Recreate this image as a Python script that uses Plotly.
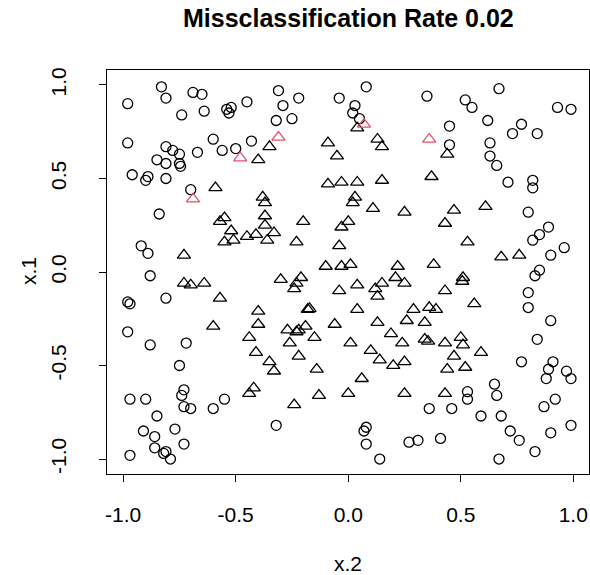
import plotly.graph_objects as go

# Class 1 (circles, correctly classified)
circ_x = [-0.98, -0.83, -0.81, -0.69, -0.65, -0.74, -0.64, -0.54, -0.52, -0.53, -0.45,
          -0.98, -0.81, -0.78, -0.75, -0.67, -0.60, -0.56, -0.50, -0.43, -0.85, -0.81, -0.75, -0.745,
          -0.31, -0.22, -0.29, -0.32, -0.25, -0.04, 0.08, 0.03, 0.02, 0.05, 0.35,
          0.67, 0.52, 0.55, 0.62, 0.77, 0.73, 0.84, 0.93, 0.99, 0.45, 0.45, 0.63, 0.63, 0.66,
          -0.96, -0.90, -0.89, -0.81, -0.70, -0.84, -0.92, -0.89,
          0.71, 0.82, 0.82, 0.80, 0.89, 0.85, 0.82, 0.96, 0.90, 0.85, 0.83, 0.80, 0.80, 0.90,
          0.84, 0.77, 0.91, 0.89, 0.97, 0.99, 0.88,
          -0.88, -0.98, -0.97, -0.81, -0.98, -0.88, -0.72, -0.75, -0.73, -0.74, -0.97, -0.90,
          -0.73, -0.70, -0.85, -0.60, -0.55, -0.77, -0.91, -0.86, -0.73, -0.86, -0.81, -0.82,
          -0.79, -0.97, -0.32, 0.08, 0.07, 0.08, 0.14, 0.27, 0.31, 0.36, 0.46, 0.53, 0.53,
          0.65, 0.66, 0.59, 0.68, 0.41, 0.72, 0.76, 0.83, 0.67, 0.87, 0.92, 0.90, 0.99]
circ_y = [0.90, 0.99, 0.93, 0.96, 0.95, 0.84, 0.86, 0.87, 0.88, 0.85, 0.91,
          0.69, 0.67, 0.65, 0.63, 0.64, 0.71, 0.65, 0.66, 0.70, 0.60, 0.58, 0.58, 0.565,
          0.97, 0.93, 0.89, 0.81, 0.82, 0.93, 0.99, 0.89, 0.85, 0.82, 0.94,
          0.98, 0.92, 0.88, 0.81, 0.79, 0.74, 0.74, 0.88, 0.87, 0.78, 0.68, 0.69, 0.62, 0.57,
          0.52, 0.49, 0.51, 0.50, 0.44, 0.31, 0.14, 0.10,
          0.48, 0.49, 0.45, 0.32, 0.24, 0.20, 0.17, 0.13, 0.09, 0.01, -0.02, -0.11, -0.19, -0.26,
          -0.36, -0.48, -0.48, -0.52, -0.53, -0.57, -0.57,
          -0.02, -0.16, -0.17, -0.14, -0.32, -0.39, -0.38, -0.50, -0.63, -0.66, -0.68, -0.68,
          -0.72, -0.73, -0.77, -0.73, -0.68, -0.84, -0.85, -0.88, -0.92, -0.94, -0.96, -0.97,
          -1.00, -0.98, -0.82, -0.83, -0.85, -0.92, -1.00, -0.91, -0.90, -0.73, -0.73, -0.64, -0.68,
          -0.60, -0.66, -0.77, -0.77, -0.89, -0.85, -0.90, -0.96, -1.00, -0.72, -0.68, -0.86, -0.82]

# Class 2 (triangles, correctly classified)
tri_x = [-0.40, -0.35, -0.09, -0.05, 0.04, 0.13, 0.15, 0.44, -0.59, -0.38, -0.37, -0.55,
         -0.57, -0.52, -0.45, -0.41, -0.37, -0.37, -0.55, -0.51, -0.36, -0.73, -0.33,
         -0.09, -0.03, 0.04, 0.15, 0.37, 0.03, 0.02, 0.11, 0.25, -0.20, 0.00, -0.03, -0.23,
         -0.04, -0.10, -0.03, 0.01, 0.22, 0.38, 0.61, 0.47, 0.43, 0.53, 0.68, 0.76,
         -0.73, -0.70, -0.64, -0.57, -0.40, -0.40, -0.44, -0.41, -0.60, -0.35, -0.33,
         -0.30, -0.21, -0.23, -0.24, -0.04, 0.04, 0.12, 0.15, 0.13, 0.21, 0.25,
         -0.18, -0.172, 0.04, 0.29, 0.36, 0.39, -0.27, -0.23, -0.22, -0.19, -0.06, 0.13,
         0.26, 0.34, 0.19, 0.24, 0.34, 0.355, -0.26, -0.15, 0.01, 0.10, -0.22, 0.14, 0.25,
         0.20, -0.14, 0.51, 0.507, 0.43, 0.56, 0.43, 0.50, 0.51, 0.59, 0.47, 0.44, 0.52,
         -0.42, -0.44, 0.06, -0.13, 0.00, -0.24, 0.25, 0.43]
tri_y = [0.60, 0.67, 0.69, 0.62, 0.77, 0.71, 0.67, 0.63, 0.45, 0.40, 0.37, 0.29,
         0.27, 0.22, 0.19, 0.20, 0.30, 0.25, 0.16, 0.17, 0.17, 0.09, 0.21,
         0.47, 0.48, 0.48, 0.49, 0.51, 0.40, 0.37, 0.34, 0.32, 0.27, 0.27, 0.24, 0.16,
         0.14, 0.03, 0.03, 0.04, 0.03, 0.04, 0.35, 0.33, 0.26, 0.16, 0.08, 0.09,
         -0.06, -0.07, -0.06, -0.14, -0.21, -0.28, -0.35, -0.43, -0.29, -0.48, -0.53,
         -0.04, -0.03, -0.06, -0.09, -0.10, -0.07, -0.09, -0.06, -0.13, -0.03, -0.06,
         -0.20, -0.196, -0.20, -0.20, -0.19, -0.20, -0.31, -0.32, -0.31, -0.29, -0.28, -0.27,
         -0.26, -0.27, -0.33, -0.38, -0.36, -0.37, -0.38, -0.35, -0.38, -0.42, -0.45, -0.47, -0.48,
         -0.50, -0.52, -0.03, -0.05, -0.10, -0.17, -0.38, -0.35, -0.39, -0.43, -0.45, -0.52, -0.51,
         -0.62, -0.65, -0.57, -0.66, -0.65, -0.71, -0.65, -0.65]

# Misclassified points (red triangles)
mis_x = [-0.48, -0.31, 0.07, 0.36, -0.69]
mis_y = [0.61, 0.72, 0.79, 0.71, 0.39]

tick_vals = [-1.0, -0.5, 0.0, 0.5, 1.0]
tick_text = ["-1.0", "-0.5", "0.0", "0.5", "1.0"]

FONT = "Liberation Sans, Arial, Helvetica, sans-serif"

fig = go.Figure()
fig.add_trace(go.Scatter(x=circ_x, y=circ_y, mode="markers", hoverinfo="skip",
                         marker=dict(symbol="circle-open", size=10, color="black",
                                     line=dict(width=1.3, color="black"))))
fig.add_trace(go.Scatter(x=tri_x, y=tri_y, mode="markers", hoverinfo="skip",
                         marker=dict(symbol="triangle-up-open", size=11.5, color="black",
                                     line=dict(width=1.3, color="black"))))
fig.add_trace(go.Scatter(x=mis_x, y=mis_y, mode="markers", hoverinfo="skip",
                         marker=dict(symbol="triangle-up-open", size=11.5, color="#DF536B",
                                     line=dict(width=1.3, color="#DF536B"))))

axis_common = dict(showgrid=False, zeroline=False, showline=True, mirror=True,
                   linecolor="black", linewidth=1.3, ticks="outside", ticklen=7,
                   tickwidth=1.3, tickcolor="black", tickvals=tick_vals, ticktext=tick_text,
                   tickfont=dict(family=FONT, size=21, color="black"), automargin=False)

W, H = 590, 575
l, r, t, b = 107, 1, 70, 101
pw, ph = W - l - r, H - t - b


def px_to_paper(px, py):
    return (px - l) / pw, (H - b - py) / ph


tx, ty = px_to_paper(348, 18)
ax, ay = px_to_paper(348, 563)
yx, yy = px_to_paper(28, 271)

fig.update_layout(
    width=W, height=H,
    margin=dict(l=l, r=r, t=t, b=b, autoexpand=False),
    paper_bgcolor="white", plot_bgcolor="white",
    showlegend=False,
    xaxis=dict(range=[-1.072, 1.070], ticklabelstandoff=15, **axis_common),
    yaxis=dict(range=[-1.08, 1.08], tickangle=-90, ticklabelstandoff=24, **axis_common),
    annotations=[
        dict(text="<b>Missclassification Rate 0.02</b>", x=tx, y=ty, xref="paper", yref="paper",
             xanchor="center", yanchor="middle", showarrow=False,
             font=dict(family=FONT, size=25, color="black")),
        dict(text="x.2", x=ax, y=ay, xref="paper", yref="paper",
             xanchor="center", yanchor="middle", showarrow=False,
             font=dict(family=FONT, size=21, color="black")),
        dict(text="x.1", x=yx, y=yy, xref="paper", yref="paper", textangle=-90,
             xanchor="center", yanchor="middle", showarrow=False,
             font=dict(family=FONT, size=21, color="black")),
    ],
)

fig.write_html("out.html", config={"displayModeBar": False},
               post_script="document.body.style.margin='0px';document.body.style.padding='0px';document.body.style.overflow='hidden';")
